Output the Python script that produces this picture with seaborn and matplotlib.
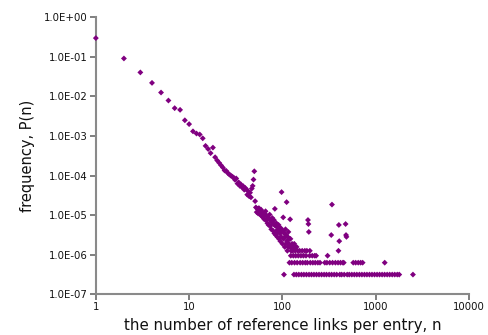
import numpy as np
import pandas as pd
import matplotlib
matplotlib.use("Agg")
import matplotlib.pyplot as plt
import seaborn as sns

# Total number of entries; frequency P(n) = entries with n links / total
total_entries = 3_200_000

# Entries per link count for n = 1..51 (head of the distribution)
head_counts = [960000, 293000, 130000, 70700, 40300, 25300, 16200, 14700, 8000, 6400,
               4200, 3700, 3500, 2800, 1800, 1500, 1180, 1630, 930, 770,
               670, 580, 510, 430, 420, 370, 340, 320, 300, 285,
               250, 270, 200, 215, 175, 190, 160, 172, 140, 155,
               143, 105, 128, 96, 118, 90, 150, 175, 253, 410, 72]
head_n = list(range(1, len(head_counts) + 1))

# n = 52..118
band_n = list(range(52, 119))
band_counts = [50, 38, 46, 35, 48, 40, 33, 44, 30,
               38, 28, 36, 25, 33, 40, 24, 31, 20, 28,
               18, 26, 33, 17, 23, 14, 21, 27, 13, 19,
               24, 11, 46, 17, 10, 20, 13, 9, 16, 12,
               18, 8, 14, 11, 7, 15, 9, 122, 12, 6,
               13, 28, 8, 1, 11, 5, 9, 14, 6, 10,
               68, 7, 4, 9, 5, 12, 6, 8]

# Sparse tail: link counts n grouped by how many entries share them
tail_n_1 = [133, 141, 150, 160, 170, 181, 193, 205, 218, 232, 247, 263, 280, 297,
            317, 337, 359, 382, 412, 432, 460, 495, 521, 555, 590, 628, 669, 712,
            758, 806, 858, 913, 972, 1035, 1101, 1172, 1247, 1328, 1413, 1504,
            1601, 1704, 1790, 2510]
tail_n_2 = [119, 126, 135, 144, 155, 165, 176, 185, 199, 212, 225, 240, 253,
            285, 300, 322, 345, 370, 395, 420, 445, 455, 575, 610, 650, 690, 725, 1250]
tail_n_3 = [123, 131, 139, 148, 158, 168, 179, 196, 209, 222, 230, 305]
tail_n_4 = [124, 129, 137, 146, 153, 163, 174, 183, 197, 399]
tail_n_5 = [120, 125, 130, 136, 142]

# Isolated tail points (n, entries)
extra_n = [121, 122, 127, 134, 188, 190, 192, 334, 340, 403, 407, 476, 481, 486]
extra_counts = [25, 8, 6, 6, 24, 19, 12, 10, 59, 18, 7, 19, 10, 9]

n_all = (head_n + band_n + tail_n_1 + tail_n_2 + tail_n_3 + tail_n_4 + tail_n_5 + extra_n)
c_all = (head_counts + band_counts + [1] * len(tail_n_1) + [2] * len(tail_n_2)
         + [3] * len(tail_n_3) + [4] * len(tail_n_4) + [5] * len(tail_n_5) + extra_counts)

df = pd.DataFrame({"n": n_all, "entries": c_all})
df["P"] = df["entries"] / total_entries

x_ticks = [1, 10, 100, 1000, 10000]
x_tick_labels = ["1", "10", "100", "1000", "10000"]
y_ticks = [1e-7, 1e-6, 1e-5, 1e-4, 1e-3, 1e-2, 1e-1, 1e0]
y_tick_labels = ["1.0E-07", "1.0E-06", "1.0E-05", "1.0E-04",
                 "1.0E-03", "1.0E-02", "1.0E-01", "1.0E+00"]

sns.set_style("ticks")
plt.rcParams["font.family"] = ["DejaVu Sans"]

fig = plt.figure(figsize=(4.89, 3.35), dpi=100)
ax = fig.add_axes([0.196, 0.122, 0.763, 0.826])

sns.scatterplot(data=df, x="n", y="P", ax=ax, marker="D", s=9,
                color="#800080", edgecolor="none", linewidth=0, legend=False,
                clip_on=False, zorder=3)

ax.set_xscale("log")
ax.set_yscale("log")
ax.set_xlim(1, 10000)
ax.set_ylim(1e-7, 1)
ax.set_xticks(x_ticks)
ax.set_xticklabels(x_tick_labels)
ax.set_yticks(y_ticks)
ax.set_yticklabels(y_tick_labels)
ax.minorticks_off()

sns.despine(ax=ax)
for side in ("left", "bottom"):
    ax.spines[side].set_color("#8a8a8a")
    ax.spines[side].set_linewidth(1.5)
ax.tick_params(axis="both", colors="#6a6a6a", labelcolor="#111111",
               labelsize=7.3, length=4, width=1.2, pad=2)

ax.set_xlabel("the number of reference links per entry, n", fontsize=10.8,
              color="#111111", labelpad=4)
ax.set_ylabel("frequency, P(n)", fontsize=10.5, color="#111111", labelpad=6)

fig.savefig("out.png", dpi=100)
